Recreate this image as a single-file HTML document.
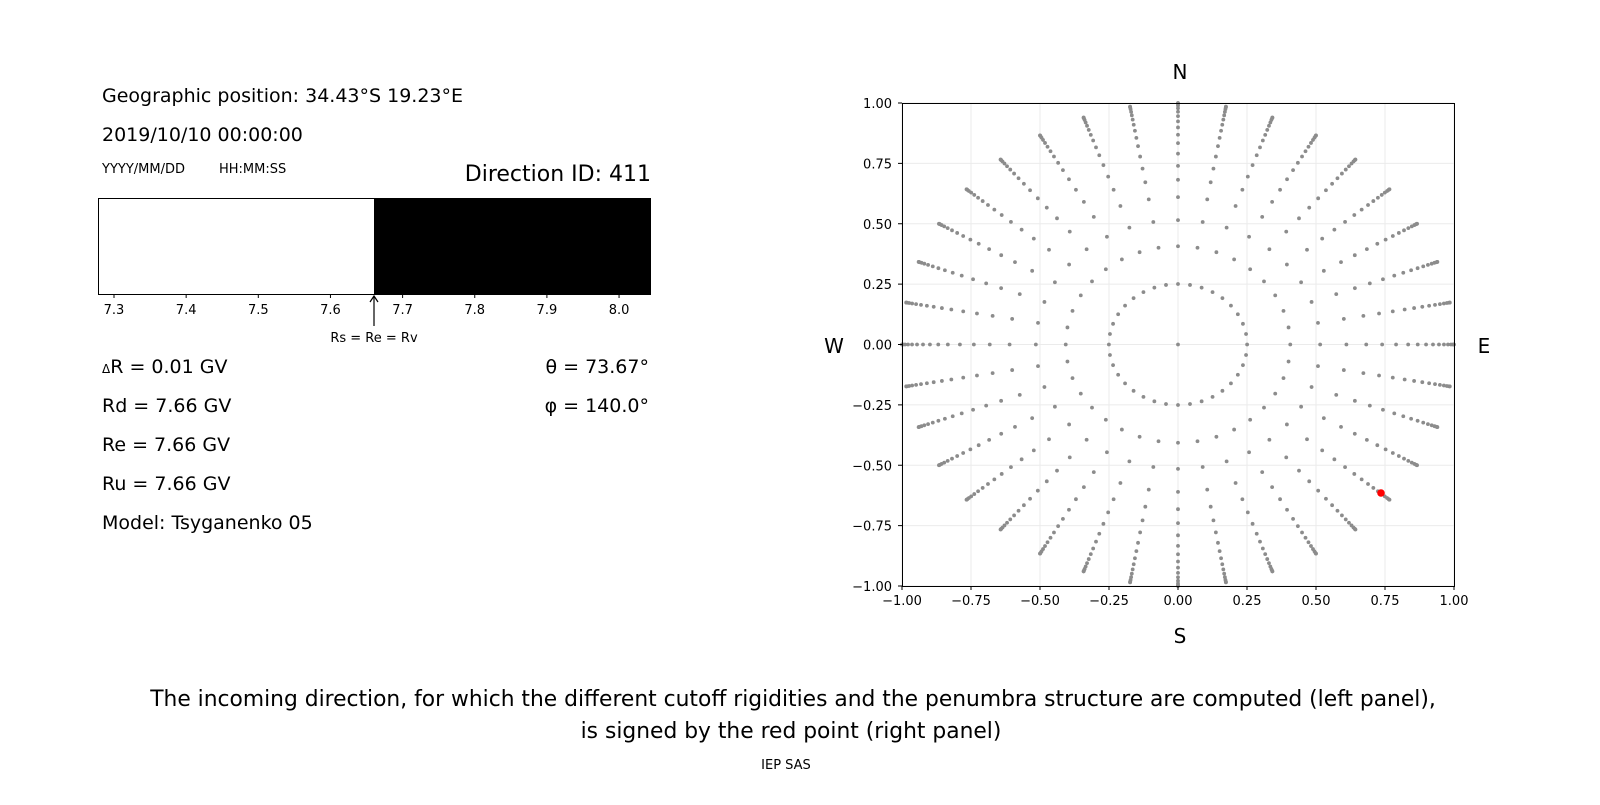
<!DOCTYPE html>
<html><head><meta charset="utf-8"><style>
body{margin:0;background:#fff;}
svg text{font-family:"DejaVu Sans","Liberation Sans",sans-serif;}
</style></head><body>
<svg id="s" width="1600" height="800" xmlns="http://www.w3.org/2000/svg">
<rect width="1600" height="800" fill="#fff"/>
<text x="102" y="102" font-size="19">Geographic position: 34.43°S 19.23°E</text>
<text x="102" y="141" font-size="19">2019/10/10 00:00:00</text>
<text x="102" y="173" font-size="13">YYYY/MM/DD</text>
<text x="219" y="173" font-size="13">HH:MM:SS</text>
<text x="651" y="181" font-size="22" text-anchor="end">Direction ID: 411</text>
<rect x="374" y="198" width="277" height="96" fill="#000"/>
<rect x="98.5" y="198.5" width="552" height="96" fill="none" stroke="#000" stroke-width="1"/>
<g font-size="13" text-anchor="middle" id="bt"></g>
<line x1="374" y1="297" x2="374" y2="326" stroke="#000" stroke-width="1.2"/>
<path d="M370 302 L374 296 L378 302" fill="none" stroke="#000" stroke-width="1.2"/>
<text x="374" y="342" font-size="13" text-anchor="middle">Rs = Re = Rv</text>
<g font-size="19">
<text x="102" y="373"><tspan font-size="12">Δ</tspan>R = 0.01 GV</text>
<text x="102" y="412">Rd = 7.66 GV</text>
<text x="102" y="451">Re = 7.66 GV</text>
<text x="102" y="490">Ru = 7.66 GV</text>
<text x="102" y="529">Model: Tsyganenko 05</text>
<text x="649" y="373" text-anchor="end">θ = 73.67°</text>
<text x="649" y="412" text-anchor="end">φ = 140.0°</text>
</g>
<g id="grid" stroke="#ebebeb" stroke-width="1"></g>
<g id="dots" fill="#8c8c8c"></g>
<circle cx="1381" cy="493" r="3.8" fill="#ff0000"/>
<rect x="902.5" y="103.5" width="552" height="483" fill="none" stroke="#000" stroke-width="1"/>
<g id="ax" font-size="13"></g>
<text x="1180" y="79" font-size="20" text-anchor="middle">N</text>
<text x="1180" y="643" font-size="20" text-anchor="middle">S</text>
<text x="834" y="353" font-size="20" text-anchor="middle">W</text>
<text x="1484" y="353" font-size="20" text-anchor="middle">E</text>
<text x="793" y="706" font-size="21.8" text-anchor="middle">The incoming direction, for which the different cutoff rigidities and the penumbra structure are computed (left panel),</text>
<text x="791" y="738" font-size="21.8" text-anchor="middle">is signed by the red point (right panel)</text>
<text x="786" y="769" font-size="13" text-anchor="middle">IEP SAS</text>
</svg>
<script>
var NS="http://www.w3.org/2000/svg";
function el(p,t,a,txt){var e=document.createElementNS(NS,t);for(var k in a)e.setAttribute(k,a[k]);if(txt!=null)e.textContent=txt;p.appendChild(e);return e;}
var bt=document.getElementById("bt");
var labs=["7.3","7.4","7.5","7.6","7.7","7.8","7.9","8.0"];
for(var i=0;i<8;i++){var x=114+i*72.15;el(bt,"line",{x1:x,y1:294,x2:x,y2:298,stroke:"#000"});el(bt,"text",{x:x,y:314},labs[i]);}
var cx=1178,cy=344.5,sx=276,sy=241.5;
var g=document.getElementById("grid"),ax=document.getElementById("ax");
var tl=["−1.00","−0.75","−0.50","−0.25","0.00","0.25","0.50","0.75","1.00"];
for(var i=0;i<9;i++){var v=-1+i*0.25;var x=cx+v*sx,y=cy-v*sy;
el(g,"line",{x1:x,y1:103,x2:x,y2:586});el(g,"line",{x1:902,y1:y,x2:1454,y2:y});
el(ax,"line",{x1:x,y1:586,x2:x,y2:590,stroke:"#000"});el(ax,"text",{x:x,y:605,"text-anchor":"middle"},tl[i]);
el(ax,"line",{x1:898,y1:y,x2:902,y2:y,stroke:"#000"});el(ax,"text",{x:892,y:y+5,"text-anchor":"end"},tl[i]);}
var d=document.getElementById("dots");
function dot(r,a){el(d,"circle",{cx:cx+r*Math.sin(a)*sx,cy:cy-r*Math.cos(a)*sy,r:1.9});}
dot(0,0);
var th=[14.5,24,31,37.6,43,47.7,52.2,56.5,60.3,64,67.5,71,74.5,78,81.5,85,88,90];
for(var j=0;j<th.length;j++){var r=Math.sin(th[j]*Math.PI/180);
for(var k=0;k<36;k++){dot(r,k*10*Math.PI/180);}}
</script>
</body></html>
